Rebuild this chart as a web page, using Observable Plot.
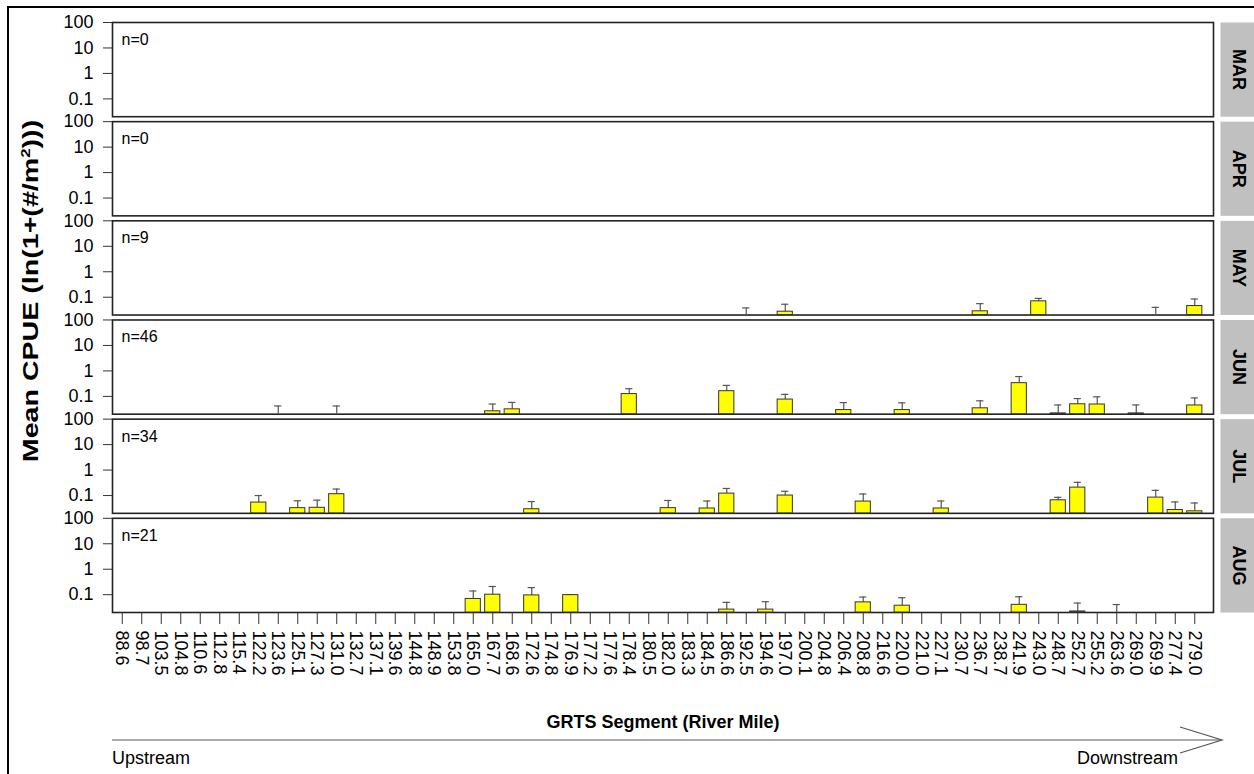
<!DOCTYPE html>
<html>
<head>
<meta charset="utf-8">
<script src="https://cdn.jsdelivr.net/npm/d3@7"></script>
<script src="https://cdn.jsdelivr.net/npm/@observablehq/plot@0.6"></script>
<style>
  html, body { margin: 0; padding: 0; background: #fff; }
  #wrap { position: relative; width: 1254px; height: 774px; overflow: hidden; font-family: "Liberation Sans", Arial, sans-serif; }
  #border { position: absolute; left: 7px; top: 6px; width: 1400px; height: 900px; border-left: 2px solid #000; border-top: 2px solid #000; pointer-events: none; }
  #chart { position: absolute; left: 0; top: 0; }
  #ytitle { position: absolute; left: 31px; top: 291px; transform: translate(-50%, -50%) rotate(-90deg) scaleX(1.3); white-space: nowrap; font-weight: bold; font-size: 22px; color: #000; }
  #xtitle { position: absolute; left: 663px; top: 722px; transform: translate(-50%, -50%); white-space: nowrap; font-weight: bold; font-size: 18px; color: #000; }
  #deco { position: absolute; left: 0; top: 0; }
</style>
</head>
<body>
<div id="wrap">
  <div id="chart"></div>
  <div id="ytitle">Mean CPUE (ln(1+(#/m<sup style="font-size:13px">2</sup>)))</div>
  <div id="xtitle">GRTS Segment (River Mile)</div>
  <svg id="deco" width="1254" height="774">
    <line x1="112" y1="740" x2="1222" y2="740" stroke="#555" stroke-width="1.2"/>
    <polyline points="1180,727 1222,740 1180,753" fill="none" stroke="#555" stroke-width="1.2"/>
    <text x="112" y="764" font-family="Liberation Sans, Arial, sans-serif" font-size="18" fill="#000">Upstream</text>
    <text x="1178" y="764" text-anchor="end" font-family="Liberation Sans, Arial, sans-serif" font-size="18" fill="#000">Downstream</text>
  </svg>
  <div id="border"></div>
</div>
<script>
// ---- categories ----
const segments = ["88.6","98.7","103.5","104.8","110.6","112.8","115.4","122.2","123.6","125.1",
  "127.3","131.0","132.7","137.1","139.6","144.8","148.9","153.8","165.0","167.7",
  "168.6","172.6","174.8","176.9","177.2","177.6","178.4","180.5","182.0","183.3",
  "184.5","186.6","192.5","194.6","197.0","200.1","204.8","206.4","208.8","216.6",
  "220.0","221.0","227.1","230.7","236.7","238.7","241.9","243.0","248.7","252.7",
  "255.2","263.6","269.0","269.9","277.4","279.0"];
const months = ["MAR","APR","MAY","JUN","JUL","AUG"];
const sampleSizes = [0, 0, 9, 46, 34, 21];
const yTicks = [0.1, 1, 10, 100];
const yDomain = [0.02, 100];

// ---- series (mean and mean + SE); null mean = error bar only ----
const maySeg   = ["192.5","197.0","236.7","243.0","269.9","279.0"];
const mayMean  = [null, 0.027, 0.028, 0.069, null, 0.045];
const mayUpper = [0.038, 0.053, 0.056, 0.090, 0.040, 0.085];

const junSeg   = ["123.6","131.0","167.7","168.6","178.4","186.6","197.0","206.4","220.0","236.7","241.9","248.7","252.7","255.2","269.0","279.0"];
const junMean  = [null, null, 0.026, 0.031, 0.123, 0.16, 0.075, 0.029, 0.029, 0.034, 0.33, 0.0215, 0.049, 0.048, 0.0215, 0.044];
const junUpper = [0.042, 0.042, 0.050, 0.058, 0.20, 0.27, 0.12, 0.057, 0.056, 0.067, 0.60, 0.046, 0.082, 0.096, 0.046, 0.087];

const julSeg   = ["122.2","125.1","127.3","131.0","172.6","182.0","184.5","186.6","197.0","208.8","227.1","248.7","252.7","269.9","277.4","279.0"];
const julMean  = [0.053, 0.032, 0.033, 0.113, 0.029, 0.032, 0.031, 0.119, 0.10, 0.058, 0.031, 0.065, 0.205, 0.083, 0.027, 0.024];
const julUpper = [0.10, 0.062, 0.066, 0.18, 0.058, 0.064, 0.061, 0.19, 0.147, 0.115, 0.061, 0.085, 0.33, 0.16, 0.056, 0.051];

const augSeg   = ["165.0","167.7","172.6","176.9","186.6","194.6","208.8","220.0","241.9","252.7","263.6"];
const augMean  = [0.068, 0.10, 0.094, 0.096, 0.026, 0.026, 0.05, 0.037, 0.04, 0.022, null];
const augUpper = [0.14, 0.21, 0.19, 0.10, 0.05, 0.053, 0.081, 0.076, 0.083, 0.047, 0.041];

// ---- build tables ----
const rows = (month, seg, mean, upper) => seg.map((s, i) => ({month, segment: s, mean: mean[i], upper: upper[i]}));
const data = [
  ...rows("MAY", maySeg, mayMean, mayUpper),
  ...rows("JUN", junSeg, junMean, junUpper),
  ...rows("JUL", julSeg, julMean, julUpper),
  ...rows("AUG", augSeg, augMean, augUpper)
];
const bars = data.filter(d => d.mean != null);
const monthRows = months.map((m, i) => ({month: m, n: sampleSizes[i]}));

const W = 1254, mL = 112, mR = 41, stripGap = 7;

const chart = Plot.plot({
  width: W,
  height: 730,
  marginLeft: mL,
  marginRight: mR,
  marginTop: 22,
  marginBottom: 118,
  style: {fontFamily: "'Liberation Sans', Arial, sans-serif", fontSize: "18px", color: "#000", background: "transparent", overflow: "visible"},
  x: {domain: segments, range: [112, 1204], paddingInner: 0.22, paddingOuter: 0.11, round: false},
  y: {type: "log", domain: yDomain},
  fy: {domain: months, axis: null, paddingInner: 0.05, paddingOuter: 0, round: false},
  marks: [
    Plot.frame({fill: "#c0c0c0", insetLeft: (W - mL - mR) + stripGap, insetRight: -mR}),
    Plot.frame({stroke: "#222", strokeWidth: 1.6}),
    Plot.ruleX(data, {x: "segment", fy: "month", y1: d => d.mean ?? yDomain[0], y2: "upper", stroke: "#555", strokeWidth: 1.2}),
    Plot.tickY(data, {x: "segment", fy: "month", y: "upper", stroke: "#555", strokeWidth: 1.2, insetLeft: 4, insetRight: 4}),
    Plot.barY(bars, {x: "segment", fy: "month", y1: () => yDomain[0], y2: "mean", fill: "#ffff00", stroke: "#333", strokeWidth: 1}),
    Plot.text(monthRows, {fy: "month", text: d => `n=${d.n}`, frameAnchor: "top-left", dx: 9, dy: 11, fontSize: 16}),
    Plot.text(monthRows, {fy: "month", text: "month", frameAnchor: "right", textAnchor: "middle", lineAnchor: "middle", dx: 25, rotate: 90, fontWeight: "bold", fontSize: 18}),
    Plot.axisY({ticks: yTicks, tickFormat: d => String(d), tickSize: 9, tickPadding: 10, label: null, fontSize: 18, stroke: "#333"}),
    Plot.axisX({tickRotate: 90, tickSize: 12, tickPadding: 6, label: null, fontSize: 18, stroke: "#333"})
  ]
});
document.getElementById("chart").appendChild(chart);
</script>
</body>
</html>
